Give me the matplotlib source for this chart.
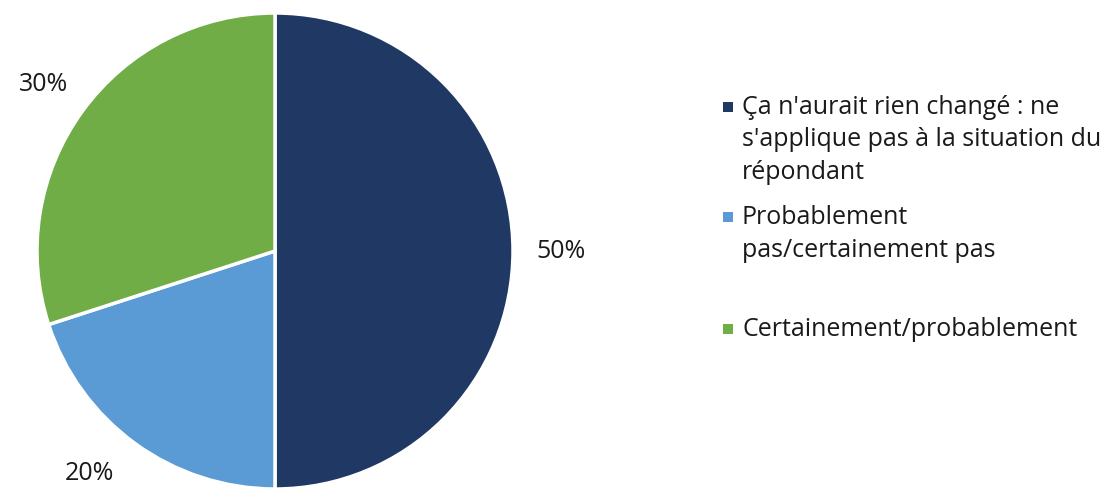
import matplotlib.pyplot as plt
from matplotlib.patches import Rectangle

# Survey answer shares
labels = [
    "Ça n'aurait rien changé : ne\ns'applique pas à la situation du\nrépondant",
    "Probablement\npas/certainement pas",
    "Certainement/probablement",
]
shares = [50, 20, 30]
colors = ["#203864", "#5B9BD5", "#70AD47"]

plt.rcParams.update({"font.family": ["Open Sans", "DejaVu Sans"], "font.size": 18})

W, H = 1119, 489
fig = plt.figure(figsize=(W / 100, H / 100), dpi=100)

# pie centre and radius in pixels
cx, cy, r = 275, 252, 238
ax = fig.add_axes([(cx - r) / W, (H - cy - r) / H, 2 * r / W, 2 * r / H])
_, texts = ax.pie(shares, colors=colors, startangle=90, counterclock=False,
                  labels=[f"{s}%" for s in shares], labeldistance=1.2,
                  wedgeprops=dict(edgecolor="white", linewidth=2.5),
                  textprops=dict(color="#1a1a1a", fontsize=18))
for t in texts:
    t.set_horizontalalignment("center")
    t.set_verticalalignment("center")
# the bottom label is pulled in so it stays inside the figure
texts[1].set_position((-0.78, -0.93))
ax.set_xlim(-1, 1)
ax.set_ylim(-1, 1)
ax.set_aspect("equal")

# legend drawn by hand: each entry gets an equal slot, centred in it
centres = [140, 234, 330]
line_h = 32
for lab, col, yc in zip(labels, colors, centres):
    n = lab.count("\n") + 1
    y_top = yc - (n - 1) * line_h / 2
    fig.text(742 / W, 1 - yc / H, lab, ha="left", va="center",
             linespacing=1.4, color="#1a1a1a", fontsize=18)
    fig.patches.append(Rectangle((723 / W, 1 - (y_top + 5) / H), 10 / W, 10 / H,
                                 transform=fig.transFigure, facecolor=col,
                                 edgecolor="none"))

fig.savefig("out.png", dpi=100)
